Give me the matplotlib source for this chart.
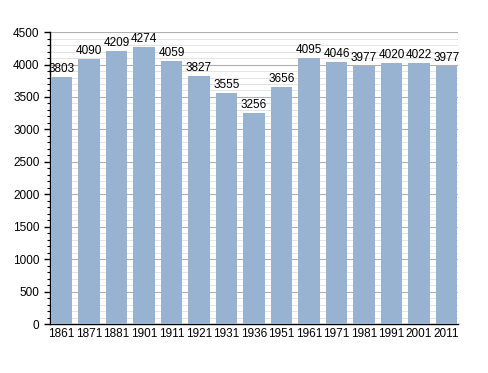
import matplotlib.pyplot as plt
from matplotlib.ticker import MultipleLocator

years = ["1861", "1871", "1881", "1901", "1911", "1921", "1931", "1936",
         "1951", "1961", "1971", "1981", "1991", "2001", "2011"]
population = [3803, 4090, 4209, 4274, 4059, 3827, 3555, 3256,
              3656, 4095, 4046, 3977, 4020, 4022, 3977]

plt.rcParams['font.family'] = ['Liberation Sans', 'DejaVu Sans']

fig = plt.figure(figsize=(4.88, 3.73), dpi=100)
ax = fig.add_axes([0.1025, 0.131, 0.836, 0.783])

x = range(len(years))
ax.bar(x, population, width=0.77, color="#98b3d2", zorder=3)

for i, v in enumerate(population):
    ax.text(i, v + 30, str(v), ha="center", va="bottom", fontsize=8.5, zorder=4)

ax.set_xlim(-0.42, len(years) - 0.58)
ax.set_ylim(0, 4500)
ax.set_xticks(list(x))
ax.set_xticklabels(years, fontsize=8.5)
ax.yaxis.set_major_locator(MultipleLocator(500))
ax.yaxis.set_minor_locator(MultipleLocator(100))
ax.tick_params(axis="y", labelsize=8.5, length=4, width=1)
ax.tick_params(axis="y", which="minor", length=2.5, width=0.8)
ax.tick_params(axis="x", length=0, pad=3)

ax.grid(axis="y", which="major", color="#b0b0b0", linewidth=0.8, zorder=0)
ax.grid(axis="y", which="minor", color="#e4e4e4", linewidth=0.7, zorder=0)

for s in ["top", "right"]:
    ax.spines[s].set_visible(False)
ax.spines["left"].set_linewidth(1)
ax.spines["bottom"].set_linewidth(1)

fig.savefig("out.png", dpi=100)
